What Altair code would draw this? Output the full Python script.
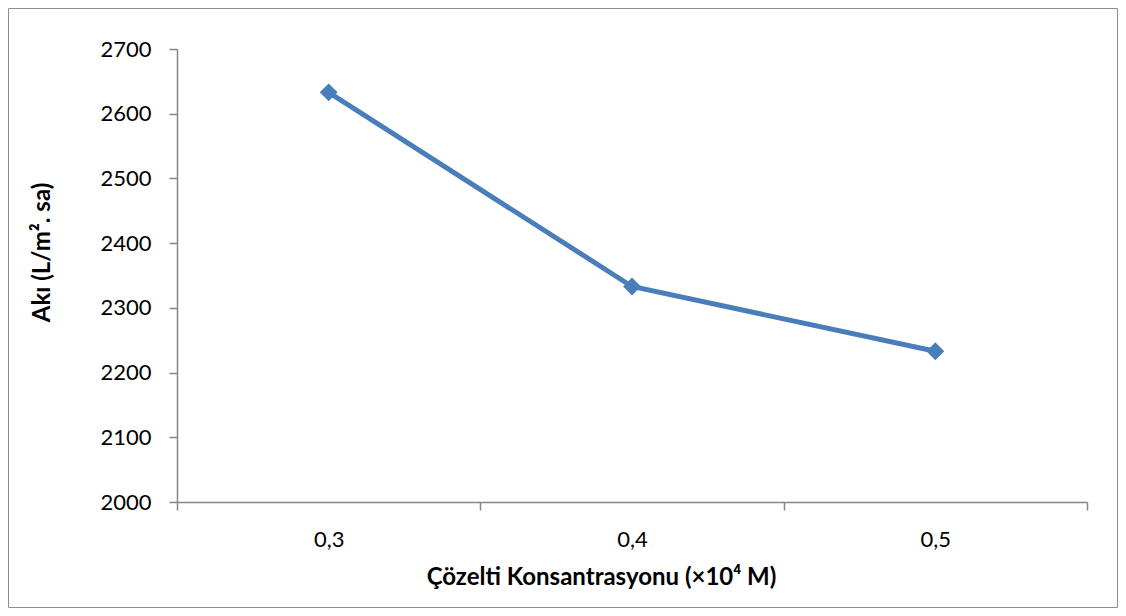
import altair as alt
import pandas as pd

# Data
categories = ["0,3", "0,4", "0,5"]
flux_values = [2633, 2333, 2233]
y_ticks = [2000, 2100, 2200, 2300, 2400, 2500, 2600, 2700]

df = pd.DataFrame({"conc": categories, "flux": flux_values})

PLOT_W = 910
PLOT_H = 453
BLUE = "#4a7ebb"
GRAY = "#868686"

x_enc = alt.X(
    "conc:N",
    sort=categories,
    scale=alt.Scale(type="band", paddingInner=0, paddingOuter=0),
    axis=alt.Axis(
        title="Çözelti Konsantrasyonu (×10⁴ M)",
        labelAngle=0,
        tickBand="extent",
        labelBaseline="top",
        labelPadding=19,
        titleX=424,
        titleY=75,
        titleAlign="center",
        titleBaseline="middle",
    ),
)
y_enc = alt.Y(
    "flux:Q",
    scale=alt.Scale(domain=[2000, 2700], nice=False, zero=False),
    axis=alt.Axis(
        title="Akı (L/m². sa)",
        values=y_ticks,
        format="d",
        labelPadding=18,
        titleAngle=270,
        titleX=-134.5,
        titleY=203,
        titleAlign="center",
        titleBaseline="middle",
    ),
)

base = alt.Chart(df).encode(x=x_enc, y=y_enc)
line = base.mark_line(color=BLUE, strokeWidth=5)
points = base.mark_point(shape="diamond", filled=True, size=320, color=BLUE, opacity=1)

border = alt.Chart(alt.Data(values=[{"a": 1}])).mark_rect(
    fillOpacity=0, stroke="#8c8c8c", strokeWidth=1
).encode(
    x=alt.value(-168.5), x2=alt.value(940.5), y=alt.value(-40.5), y2=alt.value(558.5)
)

chart = (
    alt.layer(border, line, points)
    .properties(
        width=PLOT_W,
        height=PLOT_H,
        autosize=alt.AutoSizeParams(type="none"),
        padding={"left": 169, "top": 41, "right": 31, "bottom": 106},
        background="white",
    )
    .configure_view(stroke=None)
    .configure_axis(
        grid=False,
        domainColor=GRAY,
        domainWidth=1.5,
        tickColor=GRAY,
        tickWidth=1.5,
        tickSize=8,
        labelFont="Lato",
        labelFontSize=22,
        labelColor="#000000",
        titleFont="Lato",
        titleFontSize=24,
        titleFontWeight="bold",
        titleColor="#000000",
    )
)

chart.save("out.html", embed_options={"renderer": "svg", "actions": False})
